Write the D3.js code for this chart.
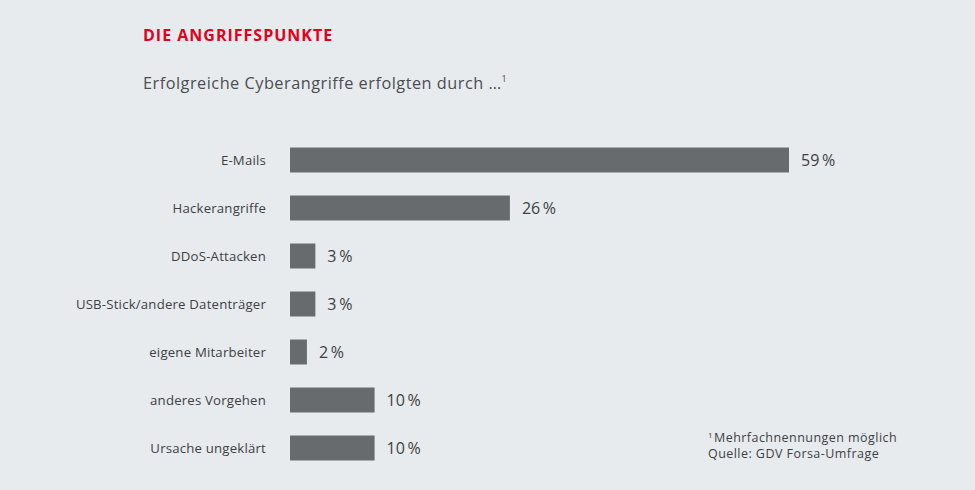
<!DOCTYPE html>
<html><head><meta charset="utf-8">
<script src="https://cdn.jsdelivr.net/npm/d3@7"></script>
<style>
html,body{margin:0;padding:0;background:#e8ebee;}
svg{display:block;font-family:"Open Sans","Noto Sans",sans-serif;}
</style></head>
<body><svg id="c" width="975" height="490"></svg>
<script>
const categories = ["E-Mails","Hackerangriffe","DDoS-Attacken","USB-Stick/andere Datenträger","eigene Mitarbeiter","anderes Vorgehen","Ursache ungeklärt"];
const values = [59,26,3,3,2,10,10];

const svg = d3.select("#c");
svg.append("rect").attr("width",975).attr("height",490).attr("fill","#e8ebee");

svg.append("text").attr("x",143).attr("y",41).attr("fill","#e2001a")
  .attr("font-size",16).attr("font-weight",700).attr("letter-spacing",1.0).text("DIE ANGRIFFSPUNKTE");
const sub = svg.append("text").attr("x",143).attr("y",89).attr("fill","#4a4d52").attr("font-size",16.3).attr("letter-spacing",0.5);
sub.append("tspan").text("Erfolgreiche Cyberangriffe erfolgten durch …");
sub.append("tspan").attr("font-size",9).attr("dy",-7).text("1");

const x = d3.scaleLinear().domain([0,59]).range([290,789]);
const y = d3.scaleBand().domain(categories).range([136,472]).paddingInner(0.48).paddingOuter(0.24);

const g = svg.append("g");
g.selectAll("rect.bar").data(categories).join("rect").attr("class","bar")
  .attr("x",x(0)).attr("y",d=>y(d)).attr("height",y.bandwidth())
  .attr("width",(d,i)=>x(values[i])-x(0)).attr("fill","#686b6e");

g.selectAll("text.cat").data(categories).join("text").attr("class","cat")
  .attr("x",266).attr("y",d=>y(d)+y.bandwidth()/2).attr("dy","0.35em")
  .attr("text-anchor","end").attr("font-size",13.2).attr("letter-spacing",0.2).attr("fill","#3c3f44").text(d=>d);

g.selectAll("text.val").data(categories).join("text").attr("class","val")
  .attr("x",(d,i)=>x(values[i])+12).attr("y",d=>y(d)+y.bandwidth()/2).attr("dy","0.38em")
  .attr("font-size",16).attr("fill","#3c3f44").text((d,i)=>values[i]+"\u2009%");

const fn = svg.append("text").attr("x",708).attr("y",442).attr("font-size",12.5).attr("letter-spacing",0.45).attr("fill","#3c3f44");
fn.append("tspan").attr("font-size",8).attr("dy",-4).text("1");
fn.append("tspan").attr("dy",4).attr("dx",1).text("Mehrfachnennungen möglich");
svg.append("text").attr("x",708).attr("y",458).attr("font-size",12.5).attr("letter-spacing",0.45).attr("fill","#3c3f44").text("Quelle: GDV Forsa-Umfrage");
</script></body></html>
